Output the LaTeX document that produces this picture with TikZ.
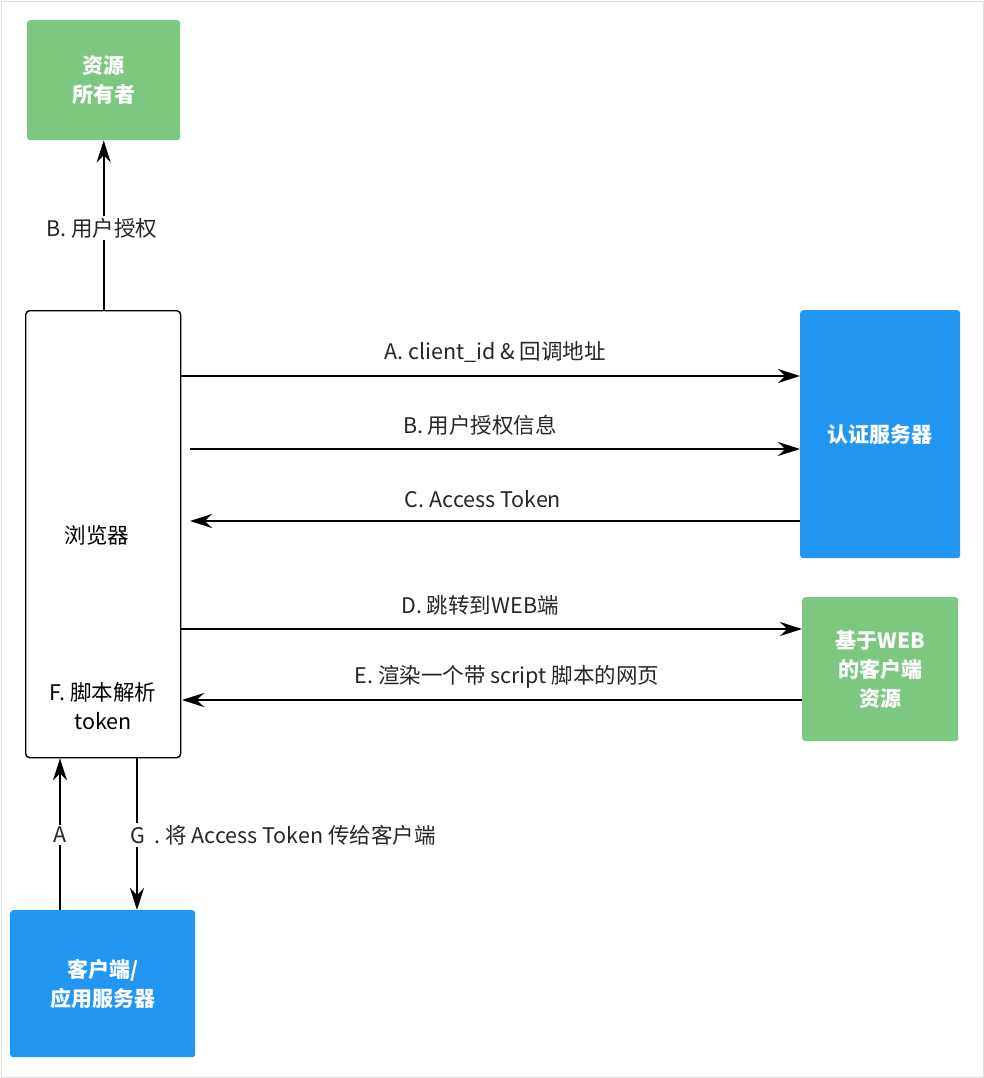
\documentclass[tikz,border=0pt]{standalone}
\usepackage{fontspec}
\setmainfont{Noto Sans CJK SC}
\usetikzlibrary{arrows.meta}
\definecolor{gbox}{HTML}{7CC87E}
\definecolor{bbox}{HTML}{2196F3}
\begin{document}
\begin{tikzpicture}[x=1pt,y=-1pt,
  box/.style={draw=none,rounded corners=3pt,text=white,font=\bfseries\fontsize{21}{29}\selectfont,align=center,anchor=north west},
  arr/.style={line width=2pt,-{Stealth[length=22pt,width=14pt]}},
  lbl/.style={font=\fontsize{21.5}{26}\selectfont,text=black!85,fill=white,inner sep=2pt}]
\fill[white] (0,0) rectangle (984,1078);
\draw[black!12] (1,1) rectangle (983,1077);
\node[box,fill=gbox,minimum width=153pt,minimum height=120pt] (own) at (27,20) {资源\\所有者};
\node[draw=black,line width=1.4pt,rounded corners=4pt,anchor=north west,minimum width=155pt,minimum height=447pt] (br) at (25,310) {};
\node[font=\fontsize{21.5}{26}\selectfont] (brt) at (97,535) {浏览器};
\node[font=\fontsize{21.5}{29}\selectfont,align=center] (f) at (103,706) {F. 脚本解析\\token};
\node[box,fill=bbox,minimum width=160pt,minimum height=248pt] (auth) at (800,310) {认证服务器};
\node[box,fill=gbox,minimum width=156pt,minimum height=144pt] (web) at (802,597) {基于WEB\\的客户端\\资源};
\node[box,fill=bbox,minimum width=185pt,minimum height=147pt] (cli) at (10,910) {客户端/\\应用服务器};
\draw[arr] (br.north -| own.south) -- (own.south);
\node[lbl] (lb) at (102,228) {B. 用户授权};
\draw[arr] (180,376) coordinate (a1) -- (a1 -| auth.west);
\node[lbl] at (495,352) {A. client\_id \& 回调地址};
\draw[arr] (190,449) coordinate (b1) -- (b1 -| auth.west);
\node[lbl] at (480,425) {B. 用户授权信息};
\coordinate (c1) at (190,521);
\draw[arr] (c1 -| auth.west) -- (c1);
\node[lbl] at (483,499) {C. Access Token};
\draw[arr] (180,629) coordinate (d1) -- (d1 -| web.west);
\node[lbl] at (480,605) {D. 跳转到WEB端};
\coordinate (e1) at (182,700);
\draw[arr] (e1 -| web.west) -- (e1);
\node[lbl] at (507,677) {E. 渲染一个带 script 脚本的网页};
\coordinate (a2) at (60,910);
\draw[arr] (a2) -- (a2 |- br.south);
\node[lbl] at (60,835) {A};
\coordinate (g2) at (137,757);
\draw[arr] (g2) -- (g2 |- cli.north);
\node[lbl,anchor=west] at (128,835) {G\ \ . 将 Access Token 传给客户端};
\end{tikzpicture}
\end{document}
